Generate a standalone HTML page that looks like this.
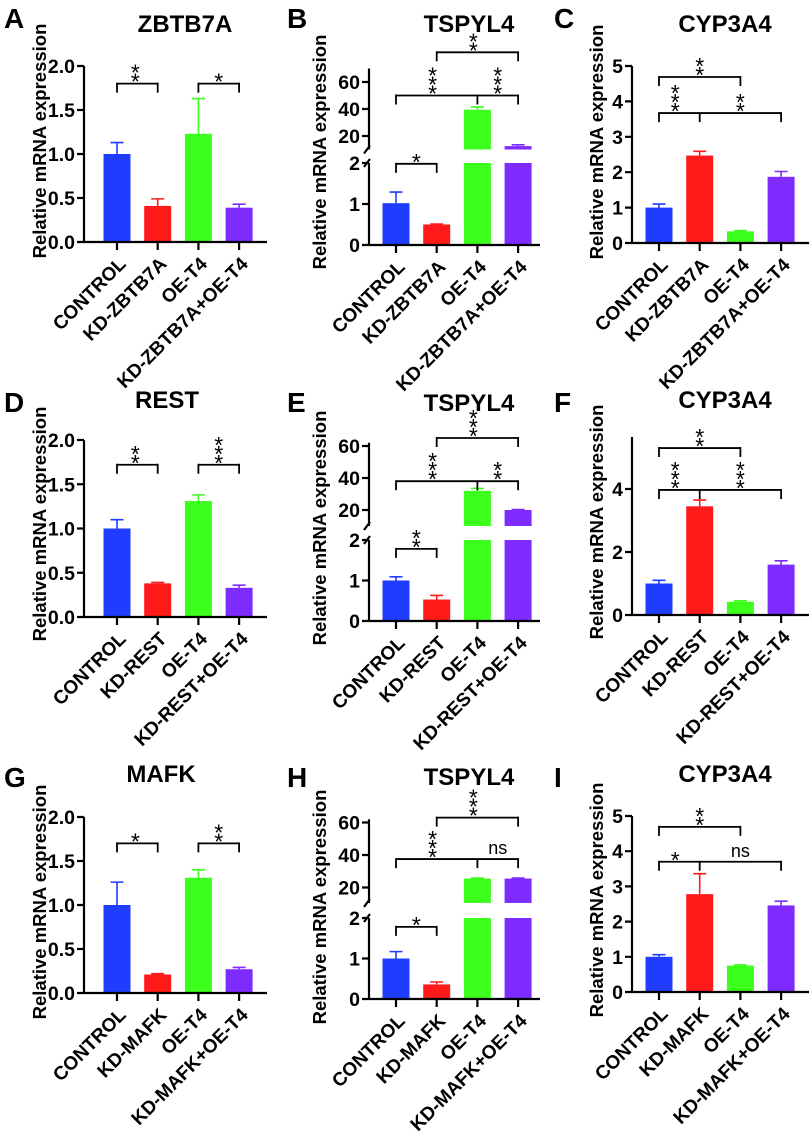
<!DOCTYPE html>
<html><head><meta charset="utf-8">
<style>
html,body{margin:0;padding:0;background:#fff;}
svg{display:block;font-family:"Liberation Sans",Arial,sans-serif;}
</style></head>
<body>
<svg id="fig" width="812" height="1142" viewBox="0 0 812 1142" xmlns="http://www.w3.org/2000/svg">
<rect width="812" height="1142" fill="#fff"/>
<g font-weight="bold" font-size="28" fill="#000">
<text x="4" y="28">A</text>
<text x="287" y="28">B</text>
<text x="554" y="28">C</text>
<text x="4" y="412">D</text>
<text x="287" y="412">E</text>
<text x="554" y="412">F</text>
<text x="4" y="787">G</text>
<text x="287" y="787">H</text>
<text x="554" y="787">I</text>
</g>
<g font-weight="bold" font-size="24" fill="#000" text-anchor="middle">
<text x="185" y="32">ZBTB7A</text>
<text x="469" y="32">TSPYL4</text>
<text x="725" y="32">CYP3A4</text>
<text x="167" y="408">REST</text>
<text x="469" y="411">TSPYL4</text>
<text x="725" y="408">CYP3A4</text>
<text x="161" y="782">MAFK</text>
<text x="469" y="785">TSPYL4</text>
<text x="725" y="782">CYP3A4</text>
</g>
</svg>
<script>
// ---- data ----
const catsA = ['CONTROL','KD-ZBTB7A','OE-T4','KD-ZBTB7A+OE-T4'];
const catsD = ['CONTROL','KD-REST','OE-T4','KD-REST+OE-T4'];
const catsG = ['CONTROL','KD-MAFK','OE-T4','KD-MAFK+OE-T4'];

const valsA = [1.0, 0.41, 1.23, 0.39];  const errA = [0.13, 0.08, 0.40, 0.04];
const valsB = [1.02, 0.50, 39.5, 12.5]; const errB = [0.27, 0.01, 2.0, 1.0];
const valsC = [1.0, 2.47, 0.33, 1.87];  const errC = [0.10, 0.12, 0.02, 0.15];
const valsD = [1.0, 0.38, 1.31, 0.33];  const errD = [0.10, 0.01, 0.07, 0.03];
const valsE = [1.0, 0.53, 32, 20];      const errE = [0.09, 0.10, 1.5, 0.3];
const valsF = [1.0, 3.45, 0.42, 1.60];  const errF = [0.10, 0.20, 0.03, 0.12];
const valsG = [1.0, 0.21, 1.31, 0.27];  const errG = [0.26, 0.01, 0.09, 0.02];
const valsH = [1.0, 0.36, 25.5, 25.5];  const errH = [0.17, 0.06, 0.3, 0.3];
const valsI = [1.0, 2.78, 0.75, 2.46];  const errI = [0.06, 0.58, 0.02, 0.12];

const ticks2 = [0, 0.5, 1.0, 1.5, 2.0];
const ticks5 = [0, 1, 2, 3, 4, 5];
const ticksF = [0, 2, 4];
const ticksLow = [0, 1, 2];
const ticksUp = [20, 40, 60];

const sigA = [{t:[0,1],y:1.8,l:[['**',0.45]]},{t:[2,3],y:1.8,l:[['*',2.5]]}];
const sigB = [{t:[0,1],y:1.98,l:[['*',0.5]]},{t:[0,2,3],y:50,l:[['***',0.9],['***',2.5]]},{t:[1,3],y:82,l:[['**',1.9]]}];
const sigC = [{t:[0,2],y:4.69,l:[['**',1]]},{t:[0,1,3],y:3.67,l:[['***',0.4],['**',2]]}];
const sigD = [{t:[0,1],y:1.72,l:[['**',0.45]]},{t:[2,3],y:1.72,l:[['***',2.5]]}];
const sigE = [{t:[0,1],y:1.78,l:[['**',0.5]]},{t:[0,2,3],y:38,l:[['***',0.9],['**',2.5]]},{t:[1,3],y:65,l:[['***',1.9]]}];
const sigF = [{t:[0,2],y:5.3,l:[['**',1]]},{t:[0,1,3],y:3.97,l:[['***',0.4],['***',2]]}];
const sigG = [{t:[0,1],y:1.7,l:[['*',0.45]]},{t:[2,3],y:1.7,l:[['**',2.5]]}];
const sigH = [{t:[0,1],y:1.78,l:[['*',0.5]]},{t:[0,2,3],y:37.5,l:[['***',0.9],['ns',2.5]]},{t:[1,3],y:63,l:[['***',1.9]]}];
const sigI = [{t:[0,2],y:4.69,l:[['**',1]]},{t:[0,1,3],y:3.7,l:[['*',0.4],['ns',2]]}];

const COLORS = ['#1f3cff','#ff1a1a','#3cff1e','#7d2bff'];
const NS = 'http://www.w3.org/2000/svg';
const svg = document.getElementById('fig');

function mk(tag, attrs, parent){
  const e = document.createElementNS(NS, tag);
  for (const k in attrs) e.setAttribute(k, attrs[k]);
  (parent||svg).appendChild(e);
  return e;
}

function drawPanel(id, L, cats, vals, errs, sig){
  const g = mk('g', {});
  
  
  const step = 40.7, bw = 27;
  const cx = i => L.ax + L.off + i * step;
  const yOf = v => {
    if (!L.broken || v <= 2.05) return L.y0 - v * L.k;
    return L.ub - v * L.uk;
  };
  const yt = mk('text', {x: L.tx + 6, y: L.ty, 'font-size': 18.5, 'font-weight': 'bold', 'text-anchor': 'middle',
    transform: 'rotate(-90 ' + (L.tx + 6) + ' ' + L.ty + ')'}, g);
  yt.textContent = 'Relative mRNA expression';
  
  
  vals.forEach((v, i) => {
    const x = cx(i) - bw/2;
    const col = COLORS[i];
    if (L.broken && v > 2) {
      const r1 = mk('rect', {x: x, y: yOf(2), width: bw, height: L.y0 - yOf(2), fill: col}, g);
      
      
      const yb = L.ub - L.umin * L.uk;
      const r2 = mk('rect', {x: x, y: yOf(v), width: bw, height: yb - yOf(v), fill: col}, g);
      
      
    } else {
      const r = mk('rect', {x: x, y: yOf(v), width: bw, height: L.y0 - yOf(v), fill: col}, g);
      
      
    }
    const yTop = yOf(v + errs[i]);
    const eb = mk('path', {d: 'M' + cx(i) + ' ' + yOf(v) + 'V' + yTop + 'M' + (cx(i)-6.5) + ' ' + yTop + 'H' + (cx(i)+6.5),
      stroke: col, 'stroke-width': 1.6, fill: 'none'}, g);
    
    
  });
  const ax = L.ax;
  let d = 'M' + ax + ' ' + L.y0 + 'H' + L.end;
  if (!L.broken) {
    d += 'M' + ax + ' ' + (L.y0 + 1) + 'V' + L.top;
  } else {
    const lt = yOf(2), ubot = L.ub - L.umin * L.uk, utop = L.ub - L.umax * L.uk;
    d += 'M' + ax + ' ' + (L.y0 + 1) + 'V' + lt;
    d += 'M' + ax + ' ' + ubot + 'V' + utop;
    d += 'M' + (ax-5) + ' ' + (lt+4) + 'L' + (ax+1) + ' ' + (lt-4);
    d += 'M' + (ax-5) + ' ' + (ubot+4) + 'L' + (ax+1) + ' ' + (ubot-4);
  }
  vals.forEach((v, i) => { d += 'M' + cx(i) + ' ' + L.y0 + 'V' + (L.y0 + 8); });
  const tickList = L.broken ? ticksLow.concat(ticksUp) : L.ticks;
  tickList.forEach(t => { d += 'M' + (ax - 7) + ' ' + yOf(t) + 'H' + ax; });
  const axis = mk('path', {d: d, stroke: '#000', 'stroke-width': 2.2, fill: 'none'}, g);
  
  
  tickList.forEach(t => {
    const tl = mk('text', {x: ax - 9, y: yOf(t) + 7, 'font-size': 19.5, 'font-weight': 'bold', 'text-anchor': 'end'}, g);
    tl.textContent = L.dec ? t.toFixed(1) : String(t);
    
    
  });
  cats.forEach((c, i) => {
    const px = cx(i) + 10, py = L.y0 + 23;
    const xl = mk('text', {x: px, y: py, 'font-size': 19, 'font-weight': 'bold', 'text-anchor': 'end',
      transform: 'rotate(-45 ' + px + ' ' + py + ')'}, g);
    xl.textContent = c;
    
    
  });
  sig.forEach(s => {
    const py = yOf(s.y);
    let bd = 'M' + cx(s.t[0]) + ' ' + py + 'H' + cx(s.t[s.t.length-1]);
    s.t.forEach(ti => { bd += 'M' + cx(ti) + ' ' + (py - 1) + 'V' + (py + 9); });
    const br = mk('path', {d: bd, stroke: '#000', 'stroke-width': 1.8, fill: 'none'}, g);
    
    
    s.l.forEach(lb => {
      const lx = cx(0) + lb[1] * step;
      if (lb[0] === 'ns') {
        const t = mk('text', {x: lx, y: py - 5, 'font-size': 18, 'text-anchor': 'middle'}, g);
        t.textContent = 'ns';
        
        
      } else {
        for (let k = 0; k < lb[0].length; k++) {
          const t = mk('text', {x: lx, y: py + 6 - k * 9, 'font-size': 23, 'text-anchor': 'middle'}, g);
          t.textContent = '*';
          
          
        }
      }
    });
  });
}

drawPanel('a', {ax:84, y0:242, k:88, top:66, end:267, off:33, ticks:ticks2, dec:true, tx:40, ty:141}, catsA, valsA, errA, sigA);
drawPanel('d', {ax:84, y0:617, k:88.5, top:440, end:267, off:33, ticks:ticks2, dec:true, tx:40, ty:524}, catsD, valsD, errD, sigD);
drawPanel('g', {ax:84, y0:993, k:88, top:817, end:267, off:33, ticks:ticks2, dec:true, tx:40, ty:902}, catsG, valsG, errG, sigG);
drawPanel('c', {ax:632, y0:243, k:35.4, top:66, end:809, off:27, ticks:ticks5, tx:597, ty:142}, catsA, valsC, errC, sigC);
drawPanel('f', {ax:632, y0:615, k:31.5, top:437, end:809, off:27, ticks:ticksF, tx:597, ty:522}, catsD, valsF, errF, sigF);
drawPanel('i', {ax:632, y0:992, k:35.2, top:816, end:809, off:27, ticks:ticks5, tx:597, ty:900}, catsG, valsI, errI, sigI);
drawPanel('b', {ax:369, y0:245, k:41, broken:true, ub:163, uk:1.35, umin:10, umax:70, end:540, off:27, tx:320, ty:152}, catsA, valsB, errB, sigB);
drawPanel('e', {ax:369, y0:621, k:40.5, broken:true, ub:542, uk:1.6, umin:10, umax:62, end:540, off:27, tx:320, ty:528}, catsD, valsE, errE, sigE);
drawPanel('h', {ax:369, y0:999, k:40.5, broken:true, ub:920, uk:1.625, umin:10.5, umax:62, end:540, off:27, tx:320, ty:907}, catsG, valsH, errH, sigH);
</script>
</body></html>
